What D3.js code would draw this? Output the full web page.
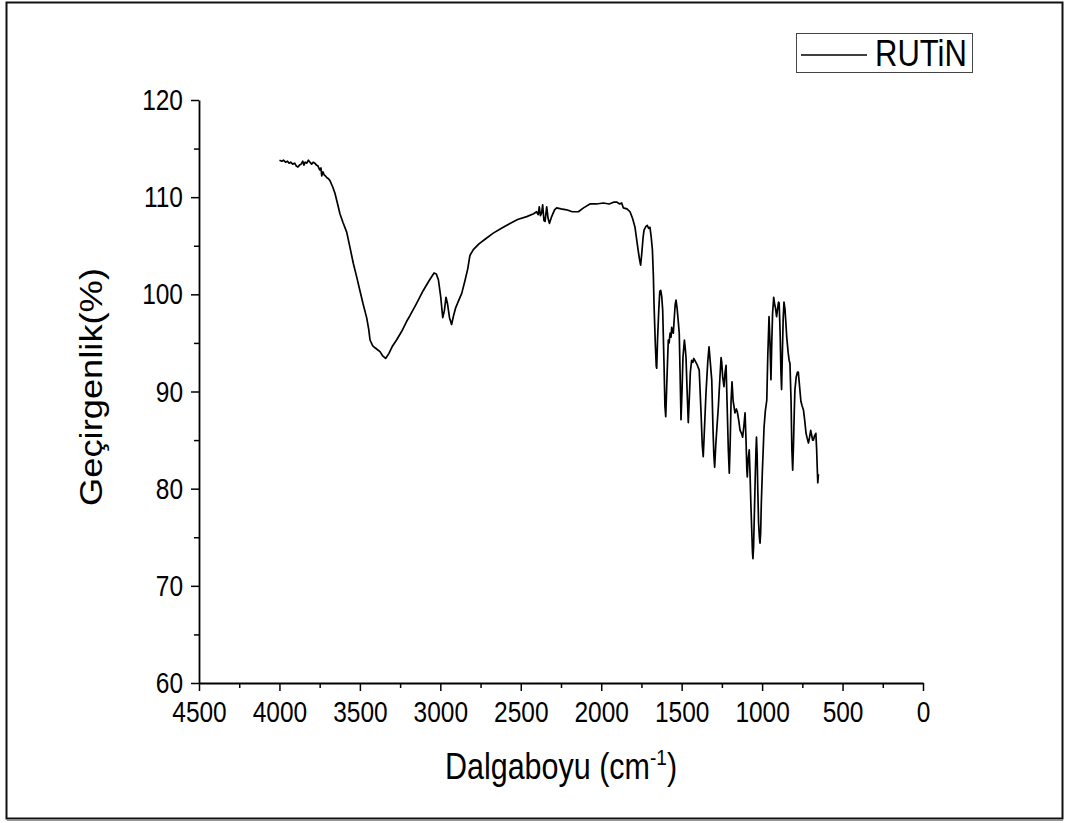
<!DOCTYPE html>
<html>
<head>
<meta charset="utf-8">
<script src="https://cdn.jsdelivr.net/npm/d3@7/dist/d3.min.js"></script>
<style>
  html, body { margin: 0; padding: 0; background: #fff; }
  svg { display: block; }
  text { font-family: "Liberation Sans", Arial, sans-serif; fill: #000; }
</style>
</head>
<body>
<svg id="chart" width="1065" height="823"></svg>
<script>
// FT-IR spectrum of rutin: wavenumber (cm-1) and transmittance (%)
const wavenumbers = [
  4000, 3985, 3975, 3962, 3950, 3940, 3930, 3918, 3905, 3895, 3885, 3875, 3865, 3855, 3848, 3840,
  3830, 3820, 3810, 3800, 3790, 3780, 3770, 3760, 3750, 3742, 3737, 3730, 3722, 3715, 3705, 3695,
  3686, 3670, 3655, 3640, 3624, 3605, 3582, 3560, 3541, 3520, 3500, 3480, 3458, 3445, 3437, 3420,
  3406, 3390, 3375, 3360, 3340, 3320, 3300, 3272, 3240, 3210, 3189, 3150, 3106, 3070, 3039, 3025,
  3012, 2998, 2985, 2975, 2965, 2955, 2943, 2930, 2918, 2905, 2885, 2867, 2847, 2830, 2816, 2795,
  2760, 2720, 2671, 2620, 2567, 2520, 2463, 2420, 2402, 2392, 2385, 2378, 2370, 2364, 2356, 2349,
  2339, 2330, 2322, 2308, 2290, 2277, 2250, 2215, 2180, 2142, 2110, 2070, 2030, 1987, 1950, 1920,
  1904, 1885, 1873, 1863, 1840, 1821, 1805, 1790, 1771, 1762, 1755, 1748, 1740, 1734, 1722, 1714,
  1705, 1697, 1690, 1682, 1676, 1672, 1664, 1658, 1655, 1650, 1642, 1636, 1630, 1624, 1618, 1610,
  1604, 1599, 1593, 1588, 1583, 1578, 1572, 1566, 1562, 1557, 1552, 1545, 1540, 1535, 1528, 1520,
  1515, 1510, 1504, 1498, 1492, 1483, 1478, 1473, 1466, 1459, 1452, 1446, 1438, 1430, 1425, 1418,
  1405, 1391, 1380, 1372, 1366, 1360, 1349, 1338, 1330, 1322, 1313, 1305, 1300, 1295, 1288, 1280,
  1272, 1262, 1255, 1251, 1245, 1237, 1230, 1224, 1218, 1210, 1204, 1198, 1193, 1187, 1180, 1175,
  1169, 1160, 1154, 1145, 1137, 1128, 1121, 1113, 1106, 1100, 1095, 1092, 1087, 1080, 1075, 1070,
  1065, 1060, 1057, 1053, 1048, 1043, 1038, 1035, 1031, 1027, 1022, 1017, 1013, 1009, 1005, 998,
  992, 988, 980, 971, 965, 957, 951, 945, 940, 935, 928, 922, 916, 910, 903, 898,
  894, 888, 883, 879, 874, 869, 864, 858, 852, 847, 838, 832, 827, 820, 815, 810,
  805, 800, 796, 788, 780, 775, 767, 759, 751, 743, 735, 727, 720, 712, 705, 698,
  692, 686, 681, 675, 666, 661, 657, 654, 650
];
const transmittance = [
  113.8, 113.7, 113.8, 113.6, 113.7, 113.5, 113.6, 113.4, 113.5, 113.2, 113.1, 113.3, 113.4, 113.7, 113.3, 113.6,
  113.5, 113.8, 113.6, 113.4, 113.6, 113.5, 113.3, 113.2, 112.8, 113.0, 112.2, 112.6, 112.3, 112.2, 112.0, 111.9,
  111.7, 111.1, 110.4, 109.4, 108.3, 107.4, 106.4, 104.7, 103.2, 101.8, 100.4, 99.0, 97.6, 96.4, 95.3, 94.7,
  94.5, 94.3, 94.1, 93.7, 93.4, 93.9, 94.6, 95.3, 96.2, 97.2, 97.8, 99.0, 100.4, 101.4, 102.2, 102.1,
  101.5, 99.8, 97.6, 98.3, 99.7, 99.0, 97.6, 96.9, 97.8, 98.6, 99.4, 100.1, 101.4, 102.6, 104.0, 104.6,
  105.2, 105.7, 106.3, 106.8, 107.3, 107.7, 108.0, 108.3, 108.5, 108.2, 109.0, 108.1, 108.4, 109.2, 107.6, 107.5,
  109.0, 107.8, 107.3, 108.0, 108.7, 108.9, 108.8, 108.7, 108.5, 108.5, 108.9, 109.3, 109.3, 109.4, 109.3, 109.5,
  109.5, 109.3, 109.4, 108.9, 108.8, 108.5, 107.8, 106.9, 104.6, 103.6, 103.0, 104.2, 105.8, 106.6, 107.0, 107.1,
  106.8, 106.9, 106.0, 104.6, 102.0, 99.1, 95.0, 92.6, 92.4, 95.3, 98.5, 100.3, 100.4, 99.8, 98.4, 93.0,
  88.5, 87.4, 90.5, 93.0, 95.3, 95.0, 96.0, 95.6, 96.6, 96.2, 96.0, 97.8, 99.0, 99.4, 98.5, 97.0,
  96.0, 92.0, 87.1, 90.0, 93.5, 95.3, 94.5, 93.5, 90.0, 86.8, 89.5, 92.0, 93.2, 93.0, 93.4, 93.2,
  92.8, 92.2, 88.0, 84.5, 83.3, 85.5, 89.8, 93.0, 94.6, 93.0, 91.2, 86.0, 83.5, 82.2, 84.5, 86.5,
  88.4, 91.5, 93.5, 93.0, 91.5, 90.5, 92.0, 92.7, 89.0, 84.0, 81.6, 85.0, 89.0, 91.0, 89.0, 88.5,
  87.8, 88.2, 87.9, 87.0, 86.0, 85.7, 85.3, 86.5, 87.8, 85.0, 82.0, 81.2, 83.0, 84.0, 81.5, 78.5,
  76.0, 73.5, 72.8, 74.0, 77.5, 81.0, 84.0, 85.3, 83.5, 80.0, 76.5, 75.0, 74.4, 75.5, 78.5, 82.0,
  84.5, 86.3, 88.0, 89.1, 93.5, 97.7, 95.0, 91.2, 95.0, 98.0, 99.7, 99.0, 98.5, 97.7, 98.6, 99.2,
  99.1, 96.0, 92.0, 90.2, 94.0, 97.5, 99.2, 98.5, 97.0, 95.6, 94.0, 93.2, 92.9, 89.0, 84.0, 81.9,
  84.5, 88.0, 90.2, 91.5, 92.0, 92.0, 90.5, 89.0, 88.5, 88.1, 87.0, 85.7, 85.2, 84.7, 85.3, 86.0,
  85.5, 85.0, 85.0, 85.4, 85.7, 84.0, 82.0, 80.6, 81.5
];

const xMajorTicks = [4500, 4000, 3500, 3000, 2500, 2000, 1500, 1000, 500, 0];
const xMinorTicks = [4250, 3750, 3250, 2750, 2250, 1750, 1250, 750, 250];
const yMajorTicks = [60, 70, 80, 90, 100, 110, 120];
const yMinorTicks = [65, 75, 85, 95, 105, 115];
const seriesName = "RUTiN";

// glyphs in this figure are drawn taller than they are wide
const TALL = 1.19;

const svg = d3.select("#chart");

// outer frame
svg.append("rect")
  .attr("x", 6.5).attr("y", 2.5)
  .attr("width", 1056).attr("height", 816)
  .attr("fill", "none").attr("stroke", "#111").attr("stroke-width", 2);
svg.append("line")
  .attr("x1", 7).attr("x2", 1063).attr("y1", 820.5).attr("y2", 820.5)
  .attr("stroke", "#999").attr("stroke-width", 1);

const plot = { left: 199, right: 923, top: 100, bottom: 683 };

const x = d3.scaleLinear().domain([4500, 0]).range([plot.left, plot.right]);
const y = d3.scaleLinear().domain([60, 120]).range([plot.bottom, plot.top]);

function styleAxis(g) {
  g.select(".domain").attr("stroke", "#000").attr("stroke-width", 1.8);
  g.selectAll(".tick line").attr("stroke", "#000").attr("stroke-width", 1.5);
  g.selectAll(".tick text")
    .attr("font-family", "Liberation Sans, Arial, sans-serif")
    .attr("font-size", 24.5).attr("fill", "#000");
}

// x axis: major ticks with labels, minor ticks without
const gx = svg.append("g").attr("transform", `translate(0,${plot.bottom})`)
  .call(d3.axisBottom(x).tickValues(xMajorTicks).tickSizeInner(8).tickSizeOuter(0)
    .tickFormat(d3.format("d")));
styleAxis(gx);
gx.selectAll(".tick text")
  .attr("y", 0).attr("dy", "0.71em")
  .attr("transform", `translate(0,18) scale(1,${TALL})`);
const gxm = svg.append("g").attr("transform", `translate(0,${plot.bottom})`)
  .call(d3.axisBottom(x).tickValues(xMinorTicks).tickSizeInner(5).tickSizeOuter(0).tickFormat(""));
styleAxis(gxm);
gxm.select(".domain").remove();

// y axis
const gy = svg.append("g").attr("transform", `translate(${plot.left},0)`)
  .call(d3.axisLeft(y).tickValues(yMajorTicks).tickSizeInner(8).tickSizeOuter(0)
    .tickFormat(d3.format("d")));
styleAxis(gy);
gy.selectAll(".tick text")
  .attr("x", 0).attr("dy", "0.33em")
  .attr("transform", `translate(-16,0) scale(1,${TALL})`);
const gym = svg.append("g").attr("transform", `translate(${plot.left},0)`)
  .call(d3.axisLeft(y).tickValues(yMinorTicks).tickSizeInner(5).tickSizeOuter(0).tickFormat(""));
styleAxis(gym);
gym.select(".domain").remove();

// axis titles
svg.append("text")
  .attr("transform", `translate(102,387) rotate(-90) scale(${TALL},1)`)
  .attr("text-anchor", "middle")
  .attr("font-size", 30.5)
  .text("Geçirgenlik(%)");

const xt = svg.append("text")
  .attr("transform", `translate(${(plot.left + plot.right) / 2},779) scale(1,${TALL})`)
  .attr("text-anchor", "middle")
  .attr("font-size", 30.5);
xt.append("tspan").text("Dalgaboyu (cm");
xt.append("tspan").attr("font-size", 19).attr("dy", -12).text("-1");
xt.append("tspan").attr("dy", 12).text(")");

// spectrum line
const pts = wavenumbers.map((w, i) => [w, transmittance[i]]);
svg.append("path")
  .datum(pts)
  .attr("fill", "none")
  .attr("stroke", "#000")
  .attr("stroke-width", 1.7)
  .attr("stroke-linejoin", "round")
  .attr("d", d3.line().x(d => x(d[0])).y(d => y(d[1])));

// legend
const lg = svg.append("g");
lg.append("rect")
  .attr("x", 796.5).attr("y", 33.5).attr("width", 176).attr("height", 39)
  .attr("fill", "#fff").attr("stroke", "#444").attr("stroke-width", 1);
lg.append("line")
  .attr("x1", 801).attr("x2", 867).attr("y1", 55).attr("y2", 55)
  .attr("stroke", "#000").attr("stroke-width", 1.5);
lg.append("text")
  .attr("transform", `translate(875,66) scale(1,${TALL})`)
  .attr("font-size", 31)
  .text(seriesName);
</script>
</body>
</html>
